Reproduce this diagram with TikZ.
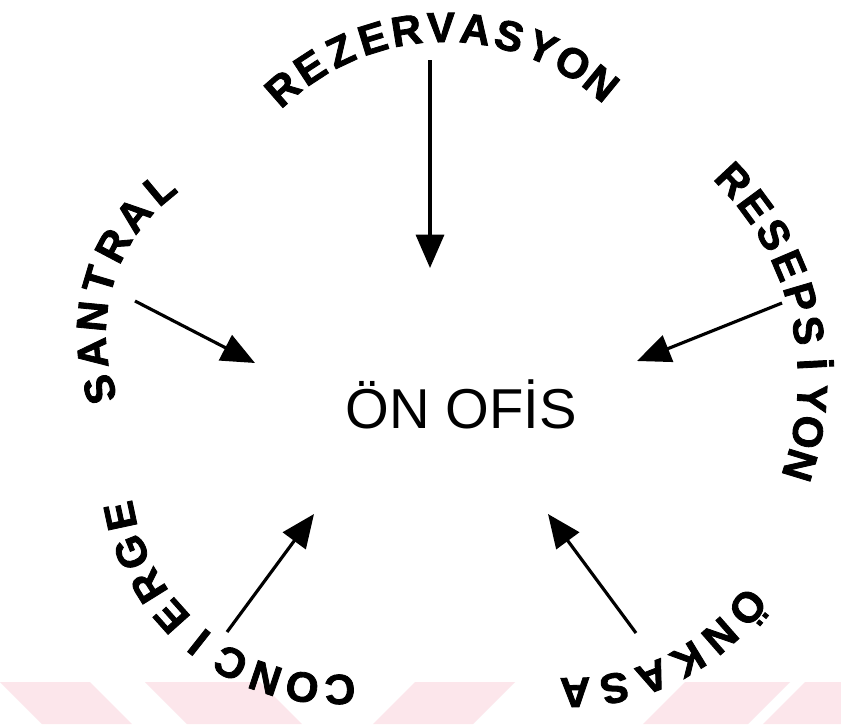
\documentclass[tikz,border=0pt]{standalone}
\usepackage{fontspec}
\setmainfont{Liberation Sans}
\newfontfamily\ringfont[FakeBold=2]{Liberation Sans}
\usepackage{xcolor}
\usetikzlibrary{arrows.meta}

\definecolor{markpink}{HTML}{FCE6EB}

\tikzset{
    ringletter/.style={font=\ringfont\bfseries\fontsize{24}{28}\selectfont, inner sep=0pt, anchor=base},
    flow/.style={line width=1.8pt, -{Triangle[length=19pt,width=16pt]}},
}

% one word set letter by letter round an arc, tops pointing outwards
% #1 name, #2 centre, #3 radius, #4 first angle, #5 step, #6 letters
\newcommand{\arcword}[6]{%
    \begin{scope}[shift={(#2)}]
        \foreach \ch [count=\i] in {#6} {
            \pgfmathsetmacro{\ang}{#4-(\i-1)*#5}
            \node[ringletter, rotate=\ang-90] (#1-\i) at (\ang:{#3-15}) {\ch};
        }
    \end{scope}%
}

\begin{document}
\begin{tikzpicture}[x=0.02cm, y=0.02cm]
        \useasboundingbox (0,0) rectangle (841,-724);
        \fill[white] (0,0) rectangle (841,-724);

        % faint stripes along the bottom edge
        \foreach \a/\b/\s in {0/90/42, 145/260/42, 415/515/-42, 685/790/-42, 805/900/-42}
            \fill[markpink] (\a,-682) -- (\b,-682) -- (\b+\s,-724) -- (\a+\s,-724) -- cycle;

        % centre
        \node[font=\fontsize{32}{38}\selectfont, anchor=base] (onofis) at (461,-428) {ÖN OFİS};

        % words round it
        \arcword{rez}{445,-274}{247}{131.2}{8.05}{R,E,Z,E,R,V,A,S,Y,O,N}
        \arcword{san}{281,-334}{190}{197}{11.2}{S,A,N,T,R,A,L}
        \arcword{res}{520,-380}{293}{43.1}{6.67}{R,E,S,E,P,S,İ,Y,O,N}
        \arcword{con}{335,-470}{220}{271.3}{9.9}{C,O,N,C,I,E,R,G,E}
        \arcword{onk}{570,-465}{228}{-38.7}{10}{Ö,N,K,A,S,A}

        % arrows towards the centre
        \coordinate (rez-from) at (430,-60);
        \coordinate (rez-to) at (430,-268);
        \coordinate (san-from) at (135,-301);
        \coordinate (san-to) at (255,-363);
        \coordinate (res-from) at (782,-303);
        \coordinate (res-to) at (637,-361);
        \coordinate (con-from) at (227,-632);
        \coordinate (con-to) at (314,-514);
        \coordinate (onk-from) at (636,-633);
        \coordinate (onk-to) at (548,-514);

        \draw[flow] (rez-from) -- (rez-to);
        \draw[flow] (san-from) -- (san-to);
        \draw[flow] (res-from) -- (res-to);
        \draw[flow] (con-from) -- (con-to);
        \draw[flow] (onk-from) -- (onk-to);
\end{tikzpicture}
\end{document}
